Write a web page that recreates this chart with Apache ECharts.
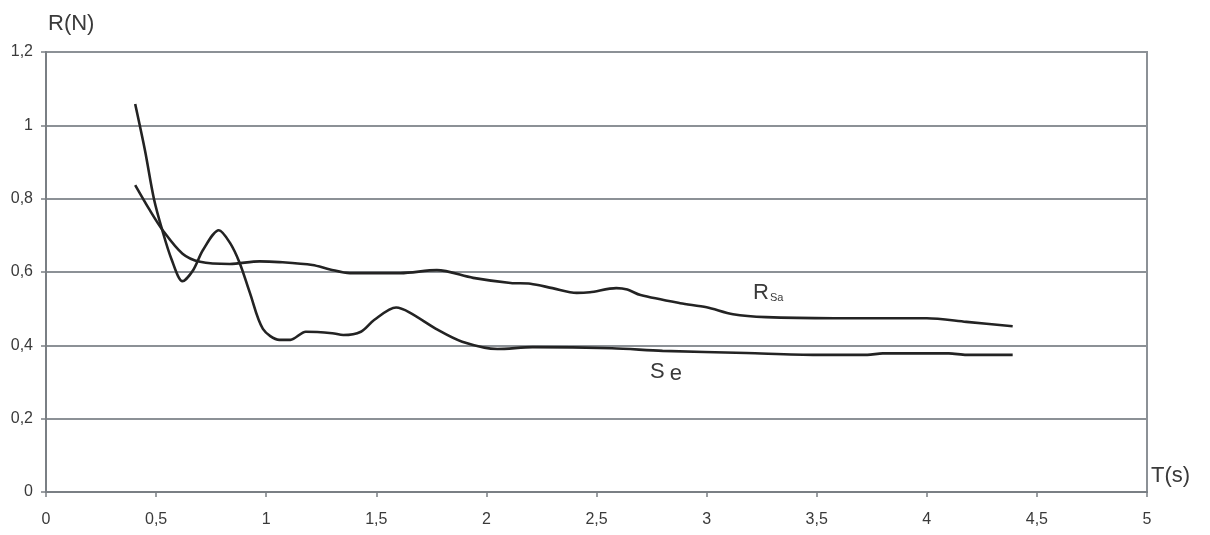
<!DOCTYPE html>
<html>
<head>
<meta charset="utf-8">
<script src="https://cdn.jsdelivr.net/npm/echarts@6/dist/echarts.min.js"></script>
<style>
  html, body { margin: 0; padding: 0; background: #fff; }
  #chart { width: 1210px; height: 535px; }
</style>
</head>
<body>
<div id="chart"></div>
<script>
// courbe Se
var tSe = [0.405, 0.45, 0.49, 0.53, 0.57, 0.62, 0.668, 0.713, 0.785, 0.835, 0.88, 0.926, 0.985,
  1.06, 1.11, 1.18, 1.30, 1.35, 1.43, 1.49, 1.59, 1.65, 1.78, 1.89, 2.05, 2.21, 2.57, 2.8, 3.18,
  3.5, 3.73, 3.8, 4.1, 4.18, 4.39]
var rSe = [1.058, 0.93, 0.80, 0.71, 0.635, 0.575, 0.605, 0.66, 0.714, 0.68, 0.624, 0.543, 0.445,
  0.415, 0.415, 0.437, 0.433, 0.428, 0.437, 0.469, 0.503, 0.49, 0.442, 0.41, 0.39, 0.395, 0.392, 0.385, 0.379,
  0.374, 0.374, 0.378, 0.378, 0.374, 0.374]
// courbe RSa
var tRs = [0.405, 0.47, 0.53, 0.62, 0.70, 0.835, 0.97, 1.06, 1.21, 1.29, 1.38, 1.61, 1.775, 1.94, 2.11,
  2.2, 2.30, 2.41, 2.47, 2.59, 2.64, 2.70, 2.88, 3.0, 3.12, 3.27, 3.58, 4.0, 4.18, 4.39]
var rRs = [0.837, 0.77, 0.714, 0.65, 0.628, 0.622, 0.629, 0.627, 0.619, 0.607, 0.597, 0.597, 0.605, 0.584, 0.570,
  0.568, 0.556, 0.543, 0.545, 0.556, 0.552, 0.537, 0.515, 0.504, 0.485, 0.477, 0.474, 0.474, 0.464, 0.452]

function pairs(xs, ys) {
  return xs.map(function(x, i) { return [x, ys[i]] })
}
function comma(v) {
  return String(v).replace('.', ',')
}

var txt = '#3a3a3a'
var gridCol = '#8c9196'
var font = 'Liberation Sans, Arial, sans-serif'

var myChart = echarts.init(document.getElementById('chart'))
var option = {
  animation: false,
  grid: {
    left: 46, right: 63, top: 52, bottom: 43,
    show: true,
    borderColor: gridCol,
    borderWidth: 2,
    backgroundColor: 'transparent'
  },
  xAxis: {
    type: 'value',
    min: 0, max: 5, interval: 0.5,
    axisLine: { lineStyle: { color: '#7a7f84', width: 2 } },
    axisTick: { show: true, length: 5, lineStyle: { color: '#7a7f84', width: 1.5 } },
    axisLabel: { color: txt, fontSize: 16, fontFamily: font, margin: 20, formatter: comma },
    splitLine: { show: false }
  },
  yAxis: {
    type: 'value',
    min: 0, max: 1.2, interval: 0.2,
    axisLine: { show: true, lineStyle: { color: '#7a7f84', width: 2 } },
    axisTick: { show: true, length: 5, lineStyle: { color: '#7a7f84', width: 1.5 } },
    axisLabel: { color: txt, fontSize: 16, fontFamily: font, margin: 13, formatter: comma },
    splitLine: { lineStyle: { color: gridCol, width: 2 } }
  },
  series: [
    {
      name: 'Se',
      type: 'line',
      data: pairs(tSe, rSe),
      smooth: 0.3,
      symbol: 'none',
      lineStyle: { color: '#232323', width: 2.6 }
    },
    {
      name: 'RSa',
      type: 'line',
      data: pairs(tRs, rRs),
      smooth: 0.3,
      symbol: 'none',
      lineStyle: { color: '#232323', width: 2.6 }
    }
  ],
  graphic: [
    { type: 'text', left: 48, top: 13,
      style: { text: 'R(N)', fill: txt, fontSize: 22, fontFamily: font } },
    { type: 'text', left: 1151, top: 465,
      style: { text: 'T(s)', fill: txt, fontSize: 22, fontFamily: font } },
    { type: 'text', left: 753, top: 282,
      style: {
        text: '{a|R}{b|Sa}',
        fill: txt,
        fontFamily: font,
        rich: {
          a: { fontSize: 22, fill: txt, fontFamily: font },
          b: { fontSize: 11, fill: txt, fontFamily: font, padding: [10, 0, 0, 1] }
        }
      } },
    { type: 'text', left: 650, top: 361,
      style: {
        text: '{a|S}{b|e}',
        fill: txt,
        fontFamily: font,
        rich: {
          a: { fontSize: 22, fill: txt, fontFamily: font },
          b: { fontSize: 22, fill: txt, fontFamily: font, padding: [4, 0, 0, 5] }
        }
      } }
  ]
}
myChart.setOption(option)
window.addEventListener('resize', function() {
  myChart.resize()
})
</script>
</body>
</html>
